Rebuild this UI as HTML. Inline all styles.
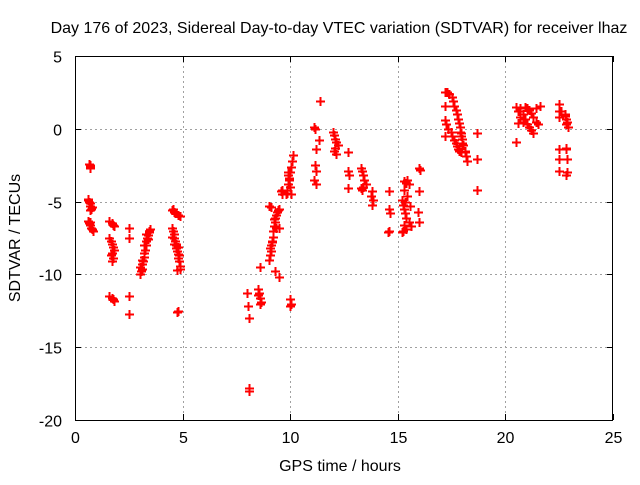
<!DOCTYPE html>
<html><head><meta charset="utf-8"><style>
body{margin:0;background:#fff;}
svg text{font-family:"Liberation Sans",sans-serif;font-size:16px;fill:#000;}
</style></head><body>
<svg id="chart" width="640" height="480" xmlns="http://www.w3.org/2000/svg">
<text x="339" y="33" text-anchor="middle">Day 176 of 2023, Sidereal Day-to-day VTEC variation (SDTVAR) for receiver lhaz</text>
<g id="grid"></g>
<g id="points"></g>
<rect x="75.5" y="56.5" width="537" height="364" fill="none" stroke="#000" stroke-width="1"/>
<g id="ticks"></g>
<text x="340" y="471" text-anchor="middle">GPS time / hours</text>
<text transform="translate(20,238) rotate(-90)" text-anchor="middle">SDTVAR / TECUs</text>
</svg>
<script>
const xTicks=[0,5,10,15,20,25];
const yTicks=[5,0,-5,-10,-15,-20];
const pointsX=[
0.65,0.7,0.68,0.72,
0.6,0.65,0.7,0.72,0.75,0.68,0.62,0.78,
0.6,0.65,0.7,0.75,0.8,0.85,0.68,
1.6,1.7,1.8,1.75,
1.6,1.65,1.7,1.75,1.8,1.7,1.65,1.75,1.7,
1.6,1.7,1.8,1.75,
2.5,2.5,2.5,2.5,
3.0,3.05,3.1,3.1,3.15,3.2,3.2,3.25,3.3,3.3,3.35,3.4,3.45,3.5,3.0,3.1,3.2,3.3,3.4,3.45,
4.5,4.6,4.7,4.8,4.9,4.55,4.65,
4.5,4.55,4.6,4.6,4.65,4.7,4.7,4.75,4.8,4.8,4.85,4.9,4.5,4.6,4.7,4.8,4.9,4.75,4.85,
4.8,4.75,
8.0,8.05,8.1,8.1,8.1,
8.5,8.55,8.6,8.65,8.6,8.5,8.6,
9.0,9.05,9.1,9.1,9.15,9.2,9.2,9.25,9.3,9.3,9.35,9.4,9.45,9.5,9.05,9.15,9.25,9.35,
9.0,9.1,9.3,9.5,9.5,9.6,9.6,9.55,
9.8,9.85,9.9,9.95,10.0,10.05,10.1,10.15,9.9,9.95,10.0,10.05,9.85,9.9,
10.0,10.05,10.0,
11.1,11.15,11.2,11.15,11.2,11.1,11.2,11.4,11.35,
12.0,12.05,12.1,12.15,12.2,12.1,12.05,12.15,
12.7,12.7,12.7,12.75,
13.3,13.35,13.4,13.45,13.5,13.4,13.35,13.3,13.8,13.75,13.85,13.8,
14.6,14.6,14.65,14.55,14.6,
15.2,15.25,15.3,15.35,15.4,15.5,15.6,15.3,15.4,15.5,15.25,15.35,15.45,15.55,15.3,15.4,15.2,15.3,15.45,
16.0,16.05,16.0,15.95,16.0,
17.3,17.4,17.5,17.55,17.6,17.7,17.75,17.8,17.85,17.9,17.95,18.0,18.05,18.1,18.15,18.2,18.1,18.0,17.95,17.9,
17.35,17.45,17.5,17.6,17.7,17.75,17.8,17.85,17.95,
17.2,17.2,17.2,17.25,17.2,18.7,18.7,18.7,
20.5,20.6,20.7,20.8,20.6,20.7,20.9,21.0,21.1,21.2,21.3,21.4,21.5,21.1,21.2,21.3,21.4,21.6,20.8,20.9,21.0,20.5,
22.5,22.5,22.5,22.6,22.75,22.8,22.85,22.8,22.9,22.75,22.5,22.5,22.5,22.8,22.85,22.8,22.85,22.8
];
const pointsY=[
-2.4,-2.5,-2.6,-2.7,
-4.8,-5.0,-5.1,-5.3,-5.5,-5.6,-4.9,-5.4,
-6.3,-6.5,-6.6,-6.8,-6.9,-7.0,-6.4,
-6.3,-6.5,-6.7,-6.6,
-7.5,-7.7,-7.9,-8.1,-8.3,-8.5,-8.7,-8.9,-9.1,
-11.5,-11.6,-11.8,-11.7,
-6.8,-7.5,-11.5,-12.7,
-10.0,-9.8,-9.6,-9.3,-9.1,-8.8,-8.5,-8.3,-8.0,-7.7,-7.5,-7.3,-7.1,-6.9,-9.5,-9.0,-8.0,-7.2,-7.6,-7.0,
-5.6,-5.7,-5.8,-5.9,-6.0,-5.5,-5.8,
-6.8,-7.0,-7.2,-7.5,-7.7,-7.9,-8.2,-8.4,-8.6,-8.9,-9.1,-9.4,-7.4,-7.9,-8.0,-8.1,-9.6,-9.7,-8.7,
-12.5,-12.6,
-11.3,-12.2,-13.0,-17.8,-18.0,
-11.0,-11.3,-11.6,-11.9,-12.0,-11.4,-9.5,
-9.0,-8.7,-8.4,-8.0,-7.7,-7.4,-7.0,-6.7,-6.4,-6.1,-5.9,-5.7,-5.6,-5.5,-8.2,-7.8,-6.2,-6.8,
-5.3,-5.4,-9.8,-10.2,-6.8,-4.2,-4.5,-4.3,
-4.5,-4.2,-3.8,-3.4,-3.0,-2.6,-2.2,-1.8,-3.0,-3.5,-4.0,-4.5,-4.4,-3.2,
-11.7,-12.0,-12.2,
0.1,0.0,-1.4,-2.5,-2.9,-3.5,-3.8,1.9,-0.8,
-0.2,-0.4,-0.7,-0.9,-1.1,-1.3,-1.5,-1.7,
-1.6,-2.9,-4.1,-3.2,
-2.7,-2.9,-3.2,-3.5,-3.8,-4.0,-4.2,-4.1,-4.3,-4.6,-4.9,-5.2,
-4.3,-5.5,-5.8,-7.1,-7.0,
-4.9,-5.2,-5.5,-5.8,-6.1,-6.4,-6.7,-3.6,-3.7,-3.8,-7.0,-5.0,-4.6,-5.3,-6.6,-6.9,-7.1,-4.2,-3.5,
-2.7,-2.8,-4.3,-5.7,-6.4,
2.5,2.4,2.2,1.9,1.6,1.3,1.0,0.7,0.4,0.1,-0.3,-0.7,-1.1,-1.5,-1.9,-2.2,-1.6,-1.0,-0.5,-0.2,
0.0,-0.2,-0.5,-0.8,-1.0,-1.2,-1.4,-1.5,-1.6,
2.5,1.6,0.6,0.3,-0.5,-0.3,-2.1,-4.2,
1.5,1.2,0.8,0.5,0.4,1.4,1.5,1.4,1.3,1.1,0.8,0.5,0.3,0.1,-0.1,-0.3,1.4,1.6,1.0,0.7,0.3,-0.9,
1.7,1.2,0.8,1.2,1.0,0.7,0.5,0.3,0.1,0.9,-1.4,-2.1,-2.9,-1.4,-2.1,-3.2,-3.0,-1.3
];
const X0=75,X1=613,Y0=420,Y1=56;
const xs=v=>X0+(v-0)/(25-0)*(X1-X0);
const ys=v=>Y0-(v+20)/(5+20)*(Y0-Y1);
const NS="http://www.w3.org/2000/svg";
const grid=document.getElementById('grid'),ticks=document.getElementById('ticks'),pts=document.getElementById('points');
function ln(p,x1,y1,x2,y2,st,dash){const l=document.createElementNS(NS,'line');l.setAttribute('x1',x1);l.setAttribute('y1',y1);l.setAttribute('x2',x2);l.setAttribute('y2',y2);l.setAttribute('stroke',st);if(dash)l.setAttribute('stroke-dasharray',dash);p.appendChild(l);return l;}
function tx(s,x,y,a){const t=document.createElementNS(NS,'text');t.textContent=s;t.setAttribute('x',x);t.setAttribute('y',y);t.setAttribute('text-anchor',a);ticks.appendChild(t);return t;}
xTicks.forEach(v=>{const x=Math.round(xs(v))+0.5;
 if(v>0&&v<25){const g=ln(grid,x,Y1,x,Y0,'#a0a0a0','2,3');

}
 ln(ticks,x,Y0,x,Y0-6,'#000');ln(ticks,x,Y1,x,Y1+6,'#000');
 const t=tx(String(v),x,443,'middle');

});
yTicks.forEach(v=>{const y=Math.round(ys(v))+0.5;
 if(v<5&&v>-20){const g=ln(grid,X0,y,X1,y,'#a0a0a0','2,3');

}
 ln(ticks,X0,y,X0+6,y,'#000');ln(ticks,X1,y,X1-6,y,'#000');
 const t=tx(String(v),62,y+6,'end');

});
for(let i=0;i<pointsX.length;i++){const x=Math.round(xs(pointsX[i]))+0.5,y=Math.round(ys(pointsY[i]))+0.5;
 const p=document.createElementNS(NS,'path');
 p.setAttribute('d',`M${x-4.5},${y}H${x+4.5}M${x},${y-4.5}V${y+4.5}`);
 p.setAttribute('stroke','#ff0000');p.setAttribute('stroke-width','2');
 
 
 pts.appendChild(p);}
</script>
</body></html>
